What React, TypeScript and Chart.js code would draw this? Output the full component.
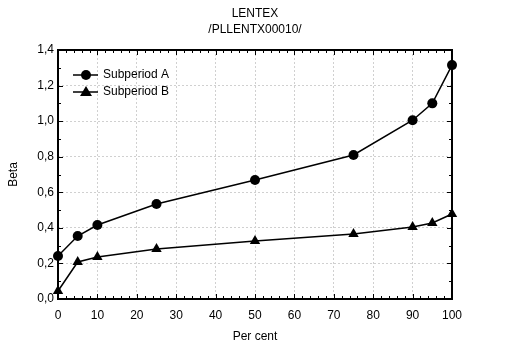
import React, { useEffect, useRef } from "react";
import { Chart, registerables } from "chart.js";

Chart.register(...registerables);

const percents = [0, 5, 10, 25, 50, 75, 90, 95, 100];
const subperiodA = [0.242, 0.354, 0.416, 0.534, 0.669, 0.81, 1.005, 1.1, 1.315];
const subperiodB = [0.045, 0.208, 0.236, 0.281, 0.326, 0.365, 0.405, 0.427, 0.478];
const seriesNames = ["Subperiod A", "Subperiod B"];
const titleLines = ["LENTEX", "/PLLENTX00010/"];
const xTitle = "Per cent";
const yTitle = "Beta";

const FONT = "'Liberation Sans', Arial, sans-serif";

const framePlugin = {
  id: "frame",
  afterDatasetsDraw(chart: any) {
    const { ctx, chartArea: a, scales } = chart;
    const xs = scales.x;
    const ys = scales.y;
    ctx.save();
    ctx.strokeStyle = "#000";
    ctx.lineWidth = 1;
    ctx.beginPath();
    for (let v = 0; v <= 100; v += 2) {
      const px = Math.round(xs.getPixelForValue(v)) + 0.5;
      const len = v % 10 === 0 ? 5 : 3;
      ctx.moveTo(px, a.bottom);
      ctx.lineTo(px, a.bottom - len);
      ctx.moveTo(px, a.top);
      ctx.lineTo(px, a.top + len);
    }
    for (let i = 0; i <= 14; i++) {
      const v = i / 10;
      const py = Math.round(ys.getPixelForValue(v)) + 0.5;
      const len = i % 2 === 0 ? 5 : 3;
      ctx.moveTo(a.left, py);
      ctx.lineTo(a.left + len, py);
      ctx.moveTo(a.right, py);
      ctx.lineTo(a.right - len, py);
    }
    ctx.stroke();
    ctx.lineWidth = 2;
    ctx.strokeRect(a.left, a.top, a.right - a.left, a.bottom - a.top);

    ctx.fillStyle = "#000";
    ctx.font = `12px ${FONT}`;
    ctx.textAlign = "center";
    ctx.textBaseline = "middle";
    const cx = (a.left + a.right) / 2;
    ctx.fillText(titleLines[0], cx, 14);
    ctx.fillText(titleLines[1], cx, 30);

    const markers = ["circle", "triangle"];
    for (let i = 0; i < 2; i++) {
      const y = 75 + i * 17;
      ctx.beginPath();
      ctx.lineWidth = 1.5;
      ctx.moveTo(73, y);
      ctx.lineTo(98, y);
      ctx.stroke();
      ctx.beginPath();
      if (markers[i] === "circle") {
        ctx.arc(86, y, 5, 0, Math.PI * 2);
      } else {
        ctx.moveTo(86, y - 6);
        ctx.lineTo(92, y + 4);
        ctx.lineTo(80, y + 4);
        ctx.closePath();
      }
      ctx.fill();
      ctx.textAlign = "left";
      ctx.fillText(seriesNames[i], 103, y);
    }
    ctx.restore();
  },
};

export default function App() {
  const ref = useRef<HTMLCanvasElement>(null);
  useEffect(() => {
    document.body.style.margin = "0";
    const chart = new Chart(ref.current!, {
      type: "line",
      data: {
        datasets: [
          {
            label: seriesNames[0],
            data: percents.map((x, i) => ({ x, y: subperiodA[i] })),
            borderColor: "#000",
            backgroundColor: "#000",
            borderWidth: 1.5,
            pointStyle: "circle",
            pointRadius: 5,
            pointBorderWidth: 0,
            clip: false,
          } as any,
          {
            label: seriesNames[1],
            data: percents.map((x, i) => ({ x, y: subperiodB[i] })),
            borderColor: "#000",
            backgroundColor: "#000",
            borderWidth: 1.5,
            pointStyle: "triangle",
            pointRadius: 6,
            pointBorderWidth: 0,
            clip: false,
          } as any,
        ],
      },
      options: {
        animation: false,
        responsive: false,
        layout: { padding: { left: 0, right: 59, top: 50, bottom: 0 } },
        plugins: { legend: { display: false }, title: { display: false }, tooltip: { enabled: false } },
        scales: {
          x: {
            type: "linear",
            min: 0,
            max: 100,
            afterFit: (s: any) => { s.height = 50; },
            ticks: { stepSize: 10, color: "#000", font: { family: FONT, size: 12 }, padding: 9, maxRotation: 0 },
            grid: { color: "#d0d0d0", drawTicks: false, tickLength: 0 },
            border: { display: false, dash: [2, 2] },
            title: { display: true, text: xTitle, color: "#000", font: { family: FONT, size: 12 }, padding: { top: 4, bottom: 5 } },
          },
          y: {
            type: "linear",
            min: 0,
            max: 1.4,
            afterFit: (s: any) => { s.width = 58; },
            ticks: {
              stepSize: 0.2,
              color: "#000",
              font: { family: FONT, size: 12 },
              padding: 4,
              callback: (v: any) => Number(v).toFixed(1).replace(".", ","),
            },
            grid: { color: "#d0d0d0", drawTicks: false, tickLength: 0 },
            border: { display: false, dash: [2, 2] },
            title: { display: true, text: yTitle, color: "#000", font: { family: FONT, size: 12 }, padding: { top: 6, bottom: 4 } },
          },
        },
      },
      plugins: [framePlugin],
    } as any);
    return () => chart.destroy();
  }, []);
  return <canvas ref={ref} width={511} height={349} style={{ display: "block" }} />;
}
